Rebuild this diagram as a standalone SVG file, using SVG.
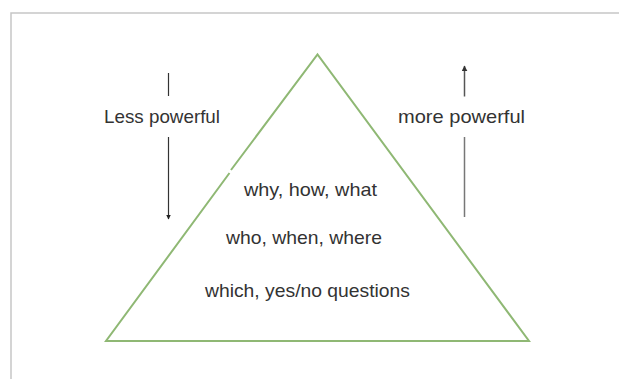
<svg xmlns="http://www.w3.org/2000/svg" width="619" height="379" viewBox="0 0 619 379">
  <defs>
    <style>
      .lbl { font-family: "Liberation Sans", Arial, sans-serif; font-size: 19px; fill: #333; }
      .tri { fill: none; stroke: #8fb874; stroke-width: 2; stroke-linejoin: miter; }
      .frame { fill: none; stroke: #c6c6c6; stroke-width: 1.5; }
    </style>
    <marker id="headDark" viewBox="0 0 10 10" refX="9" refY="5" markerWidth="5" markerHeight="6" orient="auto" markerUnits="userSpaceOnUse">
      <path d="M0,0 L10,5 L0,10 Z" fill="#222"/>
    </marker>
    <marker id="headGray" viewBox="0 0 10 10" refX="9" refY="5" markerWidth="6" markerHeight="6" orient="auto" markerUnits="userSpaceOnUse">
      <path d="M0,0 L10,5 L0,10 Z" fill="#333"/>
    </marker>
  </defs>

  <rect width="619" height="379" fill="#fff"/>
  <!-- page frame -->
  <path class="frame" d="M11,379 L11,13 L619,13"/>

  <!-- pyramid of question types -->
  <g id="pyramid">
    <path class="tri" d="M231,170 L317.5,54.5 L529,341 L106,341 L229.5,173"/>
    <text class="lbl" x="310.5" y="196" text-anchor="middle" textLength="133" lengthAdjust="spacingAndGlyphs">why, how, what</text>
    <text class="lbl" x="304" y="244" text-anchor="middle" textLength="156" lengthAdjust="spacingAndGlyphs">who, when, where</text>
    <text class="lbl" x="307.5" y="297" text-anchor="middle" textLength="205" lengthAdjust="spacingAndGlyphs">which, yes/no questions</text>
  </g>

  <g id="less-powerful">
    <text class="lbl" x="162" y="123" text-anchor="middle" textLength="116" lengthAdjust="spacingAndGlyphs">Less powerful</text>
  </g>
  <g id="more-powerful">
    <text class="lbl" x="461.5" y="123" text-anchor="middle" textLength="127" lengthAdjust="spacingAndGlyphs">more powerful</text>
  </g>

  <g id="connectors">
    <line x1="168.5" y1="73" x2="168.5" y2="96" stroke="#333" stroke-width="1.2"/>
    <line x1="168.5" y1="137" x2="168.5" y2="219" stroke="#333" stroke-width="1.2" marker-end="url(#headDark)"/>
    <line x1="464.5" y1="96.5" x2="464.5" y2="66" stroke="#555" stroke-width="1.5" marker-end="url(#headGray)"/>
    <line x1="464.5" y1="137" x2="464.5" y2="217" stroke="#777" stroke-width="1.5"/>
  </g>
</svg>
